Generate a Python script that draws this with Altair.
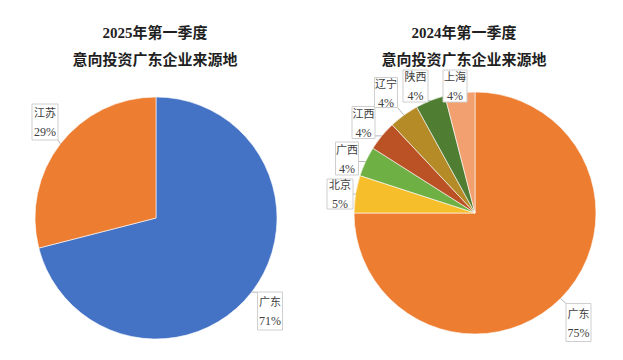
import math
import altair as alt
import pandas as pd

# ---------------- data ----------------
left_title = ["2025年第一季度", "意向投资广东企业来源地"]
left_regions = ["广东", "江苏"]
left_shares = [71, 29]

right_title = ["2024年第一季度", "意向投资广东企业来源地"]
right_regions = ["广东", "北京", "广西", "江西", "辽宁", "陕西", "上海"]
right_shares = [75, 5, 4, 4, 4, 4, 4]

# ---------------- styles ----------------
left_colors = ["#4472C4", "#ED7D31"]
right_colors = ["#ED7D31", "#F7BE2C", "#6FB044", "#BA5225", "#B58B27", "#4F7E33", "#F2A070"]

FONT = "Liberation Serif, Noto Sans CJK SC"
PANEL_H = 344

# ---------------- layout (panel pixel coordinates) ----------------
left_layout = {
    "width": 303, "center": (148, 210), "radius": 121,
    "title_x": 147, "title_y": [25, 52],
    "boxes": {"广东": (262, 303, 25, 38), "江苏": (37, 114, 26, 36)},
}
right_layout = {
    "width": 304, "center": (164, 205), "radius": 121,
    "title_x": 153, "title_y": [25, 52],
    "boxes": {
        "广东": (267.5, 314.5, 25, 38),
        "北京": (29, 186, 26, 30),
        "广西": (36, 150.5, 23, 33),
        "江西": (52.5, 114.5, 23, 32),
        "辽宁": (75, 84.5, 23, 30),
        "陕西": (104.5, 78, 25, 32),
        "上海": (144, 78, 24, 32),
    },
}


def pie_panel(regions, shares, colors, title, lay):
    cx, cy = lay["center"]
    r = lay["radius"]
    total = sum(shares)
    df = pd.DataFrame({"region": regions, "share": shares, "order": list(range(len(regions)))})

    arcs = alt.Chart(df).mark_arc(stroke="white", strokeWidth=0.6).encode(
        theta=alt.Theta("share:Q", stack=True),
        color=alt.Color("region:N", scale=alt.Scale(domain=regions, range=colors), legend=None),
        order=alt.Order("order:Q"),
        x=alt.value(cx),
        y=alt.value(cy),
        radius=alt.value(r),
    )

    # label boxes + leader lines, anchored on each slice's mid-angle
    rows = []
    cum = 0.0
    for reg, s in zip(regions, shares):
        mid = (cum + s / 2) / total * 2 * math.pi
        cum += s
        ex = cx + r * math.sin(mid)
        ey = cy - r * math.cos(mid)
        bx, by, bw, bh = lay["boxes"][reg]
        x0, x1, y0, y1 = bx - bw / 2, bx + bw / 2, by - bh / 2, by + bh / 2
        ax = min(max(ex, x0), x1)
        ay = min(max(ey, y0), y1)
        rows.append({
            "region": reg, "pct": f"{s}%",
            "x0": x0, "x1": x1, "y0": y0, "y1": y1,
            "tx": bx, "ty1": by - 8, "ty2": by + 10,
            "ax": ax, "ay": ay, "ex": ex, "ey": ey,
        })
    lab = pd.DataFrame(rows)
    base = alt.Chart(lab)

    leaders = base.mark_rule(color="#b8b8b8", strokeWidth=1).encode(
        x=alt.X("ax:Q", scale=None, axis=None),
        y=alt.Y("ay:Q", scale=None, axis=None),
        x2="ex:Q", y2="ey:Q",
    )
    boxes = base.mark_rect(fill="white", stroke="#cfcfcf", strokeWidth=1).encode(
        x=alt.X("x0:Q", scale=None, axis=None),
        x2="x1:Q",
        y=alt.Y("y0:Q", scale=None, axis=None),
        y2="y1:Q",
    )
    names = base.mark_text(font=FONT, fontSize=11, color="#404040", baseline="middle").encode(
        x=alt.X("tx:Q", scale=None, axis=None),
        y=alt.Y("ty1:Q", scale=None, axis=None),
        text="region:N",
    )
    pcts = base.mark_text(font=FONT, fontSize=12, color="#404040", baseline="middle").encode(
        x=alt.X("tx:Q", scale=None, axis=None),
        y=alt.Y("ty2:Q", scale=None, axis=None),
        text="pct:N",
    )

    tdf = pd.DataFrame({"t": title, "x": [lay["title_x"]] * len(title), "y": lay["title_y"]})
    titles = alt.Chart(tdf).mark_text(
        font=FONT, fontSize=15, fontWeight="bold", color="#1f1f1f", baseline="middle"
    ).encode(
        x=alt.X("x:Q", scale=None, axis=None),
        y=alt.Y("y:Q", scale=None, axis=None),
        text="t:N",
    )

    return alt.layer(arcs, leaders, boxes, names, pcts, titles).properties(
        width=lay["width"], height=PANEL_H
    )


left = pie_panel(left_regions, left_shares, left_colors, left_title, left_layout)
right = pie_panel(right_regions, right_shares, right_colors, right_title, right_layout)

chart = (
    alt.hconcat(left, right, spacing=0)
    .resolve_scale(color="independent")
    .properties(padding=0, background="white")
    .configure_view(stroke=None)
)

chart.save("out.html", embed_options={"renderer": "svg", "actions": False})
